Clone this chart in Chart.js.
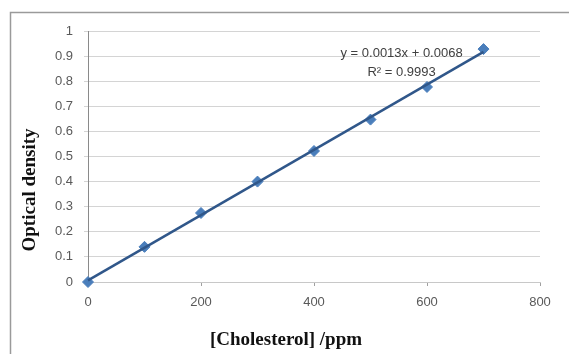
<!DOCTYPE html>
<html>
<head>
<meta charset="utf-8">
<script src="https://cdn.jsdelivr.net/npm/chart.js@4"></script>
<style>
  html, body { margin: 0; padding: 0; background: #fff; }
  #wrap { width: 569px; height: 354px; position: relative; }
</style>
</head>
<body>
<div id="wrap"><canvas id="myChart"></canvas></div>
<script>
// cholesterol standards (ppm) and measured optical density
var concentrations = [0, 100, 200, 300, 400, 500, 600, 700];
var densities = [0, 0.14, 0.275, 0.40, 0.522, 0.647, 0.777, 0.928];

// linear trendline as reported on the chart
var trendX = [0, 700];
var trendY = [0.0068, 0.9168];
var equationLines = ["y = 0.0013x + 0.0068", "R\u00b2 = 0.9993"];

var xTicks = [0, 200, 400, 600, 800];
var yTicks = [0, 0.1, 0.2, 0.3, 0.4, 0.5, 0.6, 0.7, 0.8, 0.9, 1];
var xTitle = '[Cholesterol] /ppm';
var yTitle = 'Optical density';

var frame = {
  id: 'frame',
  beforeDraw: function (chart) {
    var c = chart.ctx;
    c.save();
    c.strokeStyle = '#9a9a9a';
    c.lineWidth = 1.5;
    c.beginPath();
    c.moveTo(10.5, 354);
    c.lineTo(10.5, 12.5);
    c.lineTo(569, 12.5);
    c.stroke();
    c.restore();
  },
  afterDraw: function (chart) {
    var c = chart.ctx;
    var xs = chart.scales.x, ys = chart.scales.y;
    c.save();
    // trendline label
    c.fillStyle = '#404040';
    c.font = '13px "Liberation Sans", Arial, sans-serif';
    c.textAlign = 'center';
    c.textBaseline = 'middle';
    var cx = xs.getPixelForValue(555);
    c.fillText(equationLines[0], cx, ys.getPixelForValue(0.91));
    c.fillText(equationLines[1], cx, ys.getPixelForValue(0.833));
    // axis titles
    c.fillStyle = '#111';
    c.font = 'bold 19px "Liberation Serif", "Times New Roman", serif';
    c.fillText(xTitle, 286, 340);
    c.translate(30, 190);
    c.rotate(-Math.PI / 2);
    c.fillText(yTitle, 0, 0);
    c.restore();
  }
};

var ctx = document.getElementById('myChart').getContext('2d');
var chart = new Chart(ctx, {
  type: 'scatter',
  data: {
    datasets: [{
      label: 'Standards',
      data: concentrations.map(function (x, i) { return { x: x, y: densities[i] }; }),
      pointStyle: 'rectRot',
      pointRadius: 5.5,
      backgroundColor: '#4A7EBB',
      borderColor: '#4A7EBB',
      showLine: false,
      clip: false,
      order: 2
    }, {
      label: 'Linear',
      data: trendX.map(function (x, i) { return { x: x, y: trendY[i] }; }),
      showLine: true,
      borderColor: '#30578A',
      borderWidth: 2.5,
      pointRadius: 0,
      clip: false,
      order: 1
    }]
  },
  options: {
    responsive: true,
    maintainAspectRatio: false,
    animation: false,
    layout: { padding: { left: 0, right: 29, top: 31, bottom: 0 } },
    plugins: { legend: { display: false }, tooltip: { enabled: false } },
    scales: {
      x: {
        type: 'linear',
        min: 0, max: 800,
        afterBuildTicks: function (s) { s.ticks = xTicks.map(function (v) { return { value: v }; }); },
        afterFit: function (s) { s.height = 72; },
        grid: { drawOnChartArea: false, tickLength: 4, color: '#a0a0a0' },
        border: { color: '#c8c8c8' },
        ticks: { color: '#595959', padding: 9, font: { family: 'Liberation Sans', size: 13 } }
      },
      y: {
        min: 0, max: 1,
        afterBuildTicks: function (s) { s.ticks = yTicks.map(function (v) { return { value: v }; }); },
        afterFit: function (s) { s.width = 88; },
        grid: { color: '#d4d4d4', tickLength: 4 },
        border: { color: '#8a8a8a' },
        ticks: {
          color: '#595959', padding: 11, font: { family: 'Liberation Sans', size: 13 },
          callback: function (v) { return String(Math.round(v * 10) / 10); }
        }
      }
    }
  },
  plugins: [frame]
});
</script>
</body>
</html>
